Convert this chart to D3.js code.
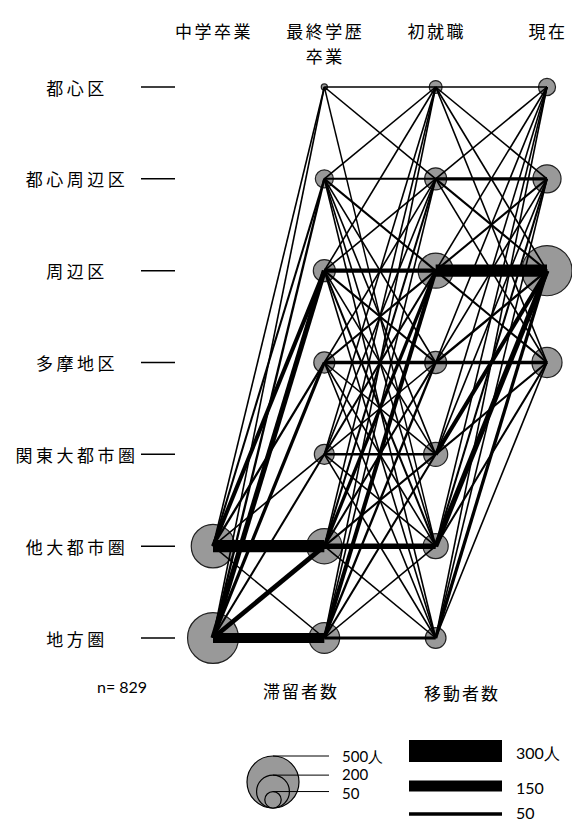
<!DOCTYPE html>
<html>
<head>
<meta charset="utf-8">
<script src="https://cdn.jsdelivr.net/npm/d3@7"></script>
<style>
  body { margin: 0; background: #fff; }
  text { font-family: "Noto Sans CJK JP", "Noto Sans", sans-serif; fill: #000; }
  .num { font-family: Lato, "Open Sans", sans-serif; }
</style>
</head>
<body>
<div id="chart"></div>
<script>
// regions (rows) and stages (columns)
var regions = ["都心区", "都心周辺区", "周辺区", "多摩地区", "関東大都市圏", "他大都市圏", "地方圏"];
var stages = ["s0", "s1", "s2", "s3"];
var stageLabels = [["中学卒業"], ["最終学歴", "卒業"], ["初就職"], ["現在"]];

// staying counts per stage (null = no node)
var stay0 = [null, null, null, null, null, 350, 479];
var stay1 = [7, 60, 90, 82, 74, 230, 174];
var stay2 = [31, 90, 228, 90, 107, 116, 79];
var stay3 = [54, 146, 465, 167, null, null, null];

// moving counts, rows = from region, columns = to region (0 = no line)
var move01 = [
  [0, 0, 0, 0, 0, 0, 0],
  [0, 0, 0, 0, 0, 0, 0],
  [0, 0, 0, 0, 0, 0, 0],
  [0, 0, 0, 0, 0, 0, 0],
  [0, 0, 0, 0, 0, 0, 0],
  [22, 28, 55, 32, 22, 165, 20],
  [22, 32, 70, 45, 28, 65, 135]
];
var move12 = [
  [20, 22, 0, 0, 0, 20, 0],
  [22, 28, 28, 22, 22, 22, 22],
  [22, 22, 60, 28, 22, 28, 22],
  [0, 22, 28, 45, 22, 22, 22],
  [22, 22, 28, 22, 35, 22, 22],
  [22, 28, 45, 28, 28, 75, 22],
  [22, 22, 55, 32, 28, 22, 40]
];
var move23 = [
  [20, 22, 22, 22],
  [22, 45, 28, 22],
  [22, 28, 165, 28],
  [22, 22, 32, 45],
  [22, 22, 55, 28],
  [22, 28, 70, 28],
  [22, 22, 45, 22]
];

// legend values
var circleLegend = [500, 200, 50];
var circleLegendLabels = ["500人", "200", "50"];
var lineLegend = [300, 150, 50];
var lineLegendLabels = ["300人", "150", "50"];
var sampleSize = 829;

var svgWidth = 572;
var svgHeight = 823;

var svg = d3.select("#chart")
  .append("svg")
  .attr("width", svgWidth)
  .attr("height", svgHeight);

// scales
var x = d3.scalePoint().domain(stages).range([213, 547]);
var y = d3.scalePoint().domain(regions).range([87, 638]);
var r = d3.scaleSqrt().domain([0, 500]).range([0, 26]);
var w = d3.scaleLinear().domain([0, 300]).range([0, 22]);

// build node and link tables
var stayAll = [stay0, stay1, stay2, stay3];
var nodes = [];
stayAll.forEach(function(arr, si) {
  arr.forEach(function(v, ri) {
    if (v != null) nodes.push({ stage: stages[si], region: regions[ri], value: v });
  });
});

var moveAll = [move01, move12, move23];
var links = [];
moveAll.forEach(function(mat, si) {
  mat.forEach(function(row, from) {
    row.forEach(function(v, to) {
      if (v > 0) links.push({ s0: stages[si], s1: stages[si + 1], from: regions[from], to: regions[to], value: v });
    });
  });
});

// row labels + short ticks
var rowG = svg.append("g");
rowG.selectAll("text")
  .data(regions)
  .enter()
  .append("text")
  .attr("x", 77)
  .attr("y", d => y(d))
  .attr("text-anchor", "middle")
  .attr("dominant-baseline", "central")
  .attr("font-size", 17)
  .attr("letter-spacing", 3.5)
  .text(d => d);
rowG.selectAll("line")
  .data(regions)
  .enter()
  .append("line")
  .attr("x1", 141).attr("x2", 175)
  .attr("y1", d => y(d)).attr("y2", d => y(d))
  .attr("stroke", "#000")
  .attr("stroke-width", 1.5);

// column headers
stageLabels.forEach(function(lines, i) {
  lines.forEach(function(t, j) {
    svg.append("text")
      .attr("x", x(stages[i]) + 1)
      .attr("y", 30 + j * 25)
      .attr("text-anchor", "middle")
      .attr("dominant-baseline", "central")
      .attr("font-size", 17)
      .attr("letter-spacing", 2.5)
      .text(t);
  });
});

// circles
svg.append("g").selectAll("circle")
  .data(nodes)
  .enter()
  .append("circle")
  .attr("cx", d => x(d.stage))
  .attr("cy", d => y(d.region))
  .attr("r", d => r(d.value))
  .attr("fill", "#999999")
  .attr("stroke", "#222")
  .attr("stroke-width", 1.2);

// links on top
svg.append("g").selectAll("line")
  .data(links)
  .enter()
  .append("line")
  .attr("x1", d => x(d.s0))
  .attr("y1", d => y(d.from))
  .attr("x2", d => x(d.s1))
  .attr("y2", d => y(d.to))
  .attr("stroke", "#000")
  .attr("stroke-width", d => w(d.value));

// n label
svg.append("text")
  .attr("class", "num")
  .attr("x", 97).attr("y", 686)
  .attr("dominant-baseline", "central")
  .attr("font-size", 16)
  .text("n= " + sampleSize);

// circle legend
svg.append("text")
  .attr("x", 301).attr("y", 690)
  .attr("text-anchor", "middle")
  .attr("dominant-baseline", "central")
  .attr("font-size", 17)
  .attr("letter-spacing", 2)
  .text("滞留者数");

var legBottom = 808;
var legX = 273;
var legTextY = [756, 774, 793];
var cl = svg.append("g");
cl.selectAll("circle")
  .data(circleLegend)
  .enter()
  .append("circle")
  .attr("cx", legX)
  .attr("cy", d => legBottom - r(d))
  .attr("r", d => r(d))
  .attr("fill", "#999999")
  .attr("stroke", "#000")
  .attr("stroke-width", 1.2);
cl.selectAll("line")
  .data(circleLegend)
  .enter()
  .append("line")
  .attr("x1", legX).attr("x2", 329)
  .attr("y1", d => legBottom - 2 * r(d))
  .attr("y2", d => legBottom - 2 * r(d))
  .attr("stroke", "#000")
  .attr("stroke-width", 1);
cl.selectAll("text")
  .data(circleLegend)
  .enter()
  .append("text")
  .attr("class", "num")
  .attr("x", 342)
  .attr("y", (d, i) => legTextY[i])
  .attr("dominant-baseline", "central")
  .attr("font-size", 15)
  .text((d, i) => circleLegendLabels[i]);

// line legend
svg.append("text")
  .attr("x", 462).attr("y", 692)
  .attr("text-anchor", "middle")
  .attr("dominant-baseline", "central")
  .attr("font-size", 17)
  .attr("letter-spacing", 2)
  .text("移動者数");

var lineY = [751, 786, 814];
var ll = svg.append("g");
ll.selectAll("line")
  .data(lineLegend)
  .enter()
  .append("line")
  .attr("x1", 409).attr("x2", 502)
  .attr("y1", (d, i) => lineY[i])
  .attr("y2", (d, i) => lineY[i])
  .attr("stroke", "#000")
  .attr("stroke-width", d => w(d));
ll.selectAll("text")
  .data(lineLegend)
  .enter()
  .append("text")
  .attr("class", "num")
  .attr("x", 516)
  .attr("y", (d, i) => i === 2 ? 812 : lineY[i] + 1)
  .attr("dominant-baseline", "central")
  .attr("font-size", 16)
  .text((d, i) => lineLegendLabels[i]);
</script>
</body>
</html>
